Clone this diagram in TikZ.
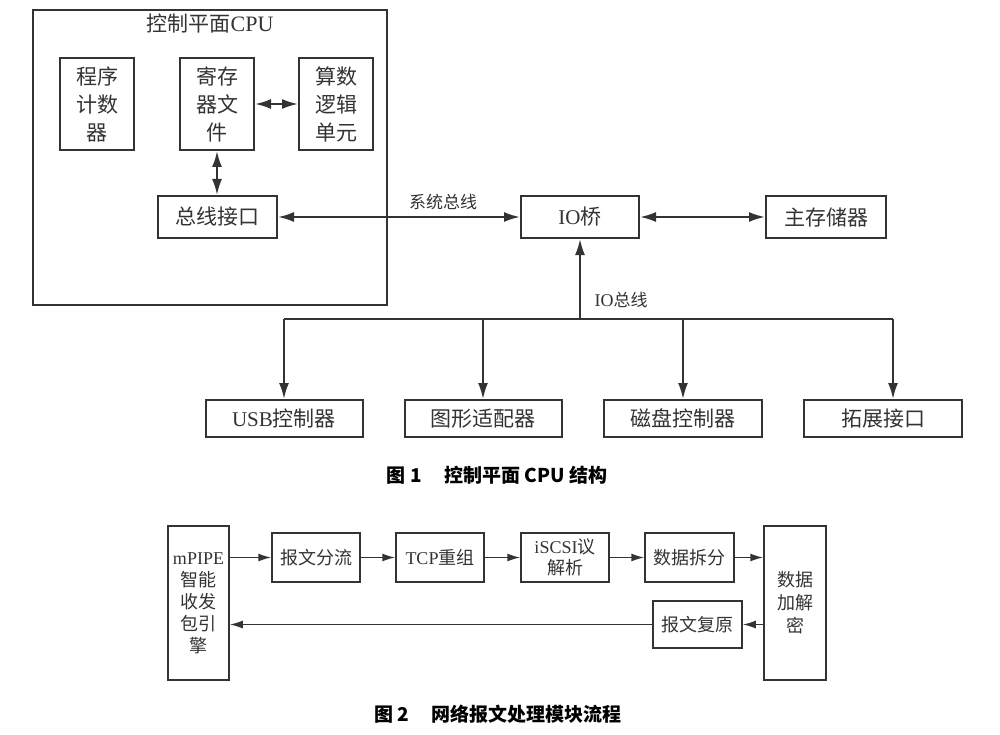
\documentclass[tikz,border=0pt]{standalone}
\usepackage{fontspec}
\setmainfont{Noto Sans CJK SC}
\newfontfamily\lat{Liberation Serif}
\usetikzlibrary{arrows.meta}
\definecolor{ink}{HTML}{333333}
\begin{document}
\begin{tikzpicture}[x=1pt, y=-1pt,
    blk/.style={draw=ink, line width=2pt, text=ink, inner sep=0pt, align=center,
      font=\fontsize{21}{28}\selectfont},
    sblk/.style={draw=ink, line width=1.5pt, text=ink, inner sep=0pt, align=center,
      font=\fontsize{18}{23}\selectfont},
    arr/.style={ink, line width=2pt, -{Latex[length=16pt,width=10pt]}},
    darr/.style={ink, line width=2pt, {Latex[length=16pt,width=10pt]}-{Latex[length=16pt,width=10pt]}},
    sarr/.style={ink, line width=1.5pt, -{Latex[length=13pt,width=8pt]}},
    lbl/.style={text=ink, font=\fontsize{17}{20}\selectfont},
    figcap/.style={text=black, font=\fontsize{19}{22}\selectfont\bfseries}]
  \useasboundingbox (0,0) rectangle (1000,735);

  % figure 1: control plane CPU
  \node[blk, minimum width=354, minimum height=295] (cpu) at (210,157.5) {};
  \node[text=ink, font=\fontsize{21}{24}\selectfont] (cpuT) at (210,24) {控制平面{\lat\fontsize{22}{24}\selectfont CPU}};

  \node[blk, minimum width=74, minimum height=92] (pc) at (97,104) {程序\\计数\\器};
  \node[blk, minimum width=74, minimum height=92] (reg) at (217,104) {寄存\\器文\\件};
  \node[blk, minimum width=74, minimum height=92] (alu) at (336,104) {算数\\逻辑\\单元};
  \node[blk, minimum width=119, minimum height=42] (busif) at (217.5,217) {总线接口};

  \node[blk, minimum width=118, minimum height=42] (iob) at (580,217) {{\lat IO}桥};
  \node[blk, minimum width=120, minimum height=42] (mem) at (826,217) {主存储器};

  \node[blk, minimum width=157, minimum height=37] (usb) at (284,418.5) {{\lat USB}控制器};
  \node[blk, minimum width=157, minimum height=37] (gpu) at (483,418.5) {图形适配器};
  \node[blk, minimum width=158, minimum height=37] (disk) at (683,418.5) {磁盘控制器};
  \node[blk, minimum width=158, minimum height=37] (ext) at (883,418.5) {拓展接口};

  \draw[darr] (reg) -- (alu);
  \draw[darr] (reg) -- (reg |- busif.north);
  \draw[darr] (busif) -- (iob);
  \draw[darr] (iob) -- (mem);
  \node[lbl] (sysbus) at (443,202) {系统总线};

  \coordinate (tap) at (580,319);
  \coordinate (busL) at (284,319);
  \coordinate (busR) at (893,319);
  \draw[ink, line width=2pt] (busL) -- (busR);
  \draw[arr] (tap) -- (iob);
  \node[lbl, anchor=west] (iobus) at (591,300) {{\lat\fontsize{18}{20}\selectfont IO}总线};
  \draw[arr] (busL) -- (usb.north -| busL);
  \draw[arr] (gpu.north |- tap) -- (gpu.north);
  \draw[arr] (disk.north |- tap) -- (disk.north);
  \draw[arr] (busR) -- (ext.north -| busR);

  \node[figcap] (cap1) at (497,475) {图 1\hspace{1.2em}控制平面 CPU 结构};

  % figure 2: packet processing flow
  \node[sblk, minimum width=61, minimum height=154, font=\fontsize{18}{22}\selectfont] (mpipe) at (198.5,603)
    {{\lat mPIPE}\\智能\\收发\\包引\\擎};
  \node[sblk, minimum width=88, minimum height=49] (split) at (316,557.5) {报文分流};
  \node[sblk, minimum width=88, minimum height=49] (tcp) at (440,557.5) {{\lat TCP}重组};
  \node[sblk, minimum width=88, minimum height=49, font=\fontsize{18}{21}\selectfont] (iscsi) at (565,557.5) {{\lat iSCSI}议\\解析};
  \node[sblk, minimum width=89, minimum height=49] (dsplit) at (689.5,557.5) {数据拆分};
  \node[sblk, minimum width=62, minimum height=154] (crypt) at (795,603) {数据\\加解\\密};
  \node[sblk, minimum width=89, minimum height=47] (restore) at (697.5,624.5) {报文复原};

  \draw[sarr] (mpipe.east |- split) -- (split);
  \draw[sarr] (split) -- (tcp);
  \draw[sarr] (tcp) -- (iscsi);
  \draw[sarr] (iscsi) -- (dsplit);
  \draw[sarr] (dsplit) -- (crypt.west |- dsplit);
  \draw[sarr] (crypt.west |- restore) -- (restore);
  \draw[sarr] (restore) -- (mpipe.east |- restore);

  \node[figcap] (cap2) at (498,714) {图 2\hspace{1.2em}网络报文处理模块流程};
\end{tikzpicture}
\end{document}
